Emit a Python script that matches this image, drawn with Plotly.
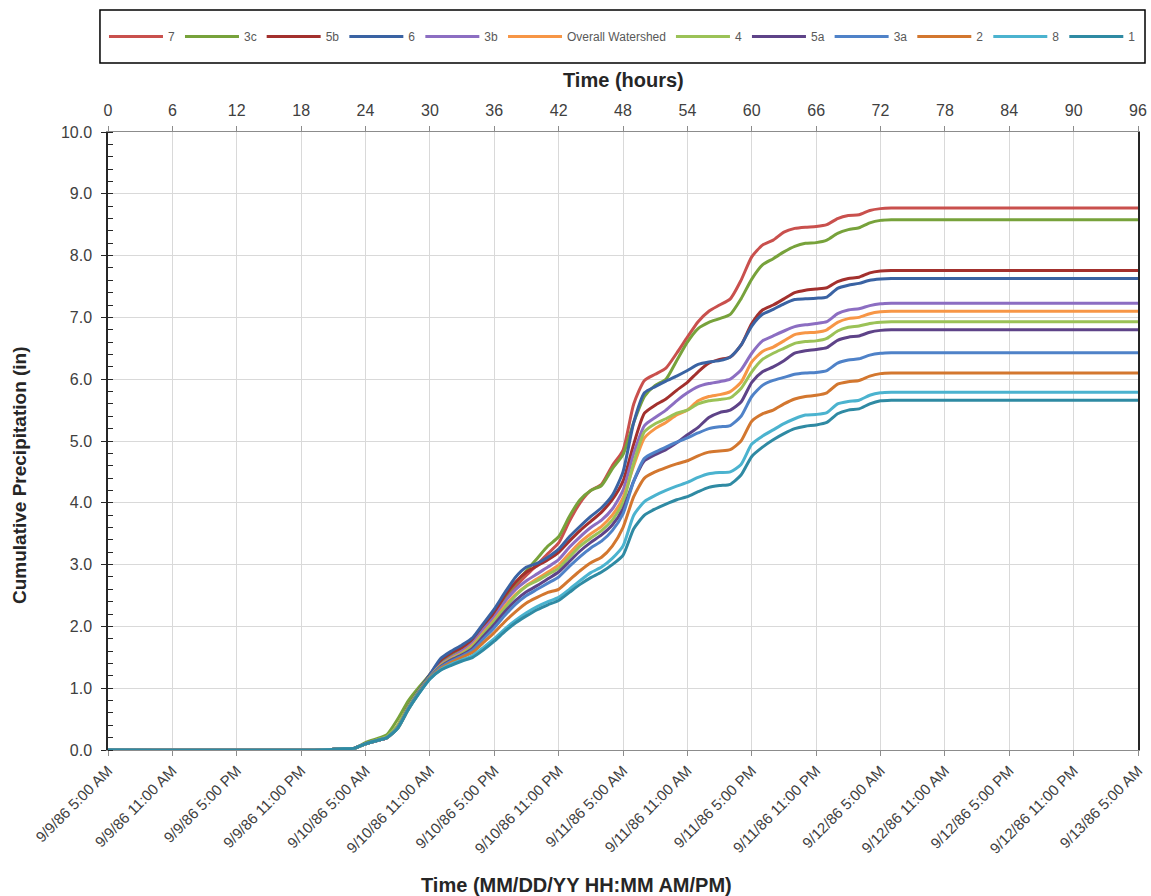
import plotly.graph_objects as go

# Time in hours since 9/9/86 5:00 AM
hours = [0, 20, 22, 23, 24, 25, 26, 27, 28, 29, 30, 31, 32, 33, 34, 35, 36, 37, 38, 39,
         40, 41, 42, 43, 44, 45, 46, 47, 48, 49, 50, 51, 52, 53, 54, 55, 56, 57, 58, 59,
         60, 61, 62, 63, 64, 65, 66, 67, 68, 69, 70, 71, 72, 73, 96]

s7 = [0, 0, 0.02, 0.03, 0.10, 0.15, 0.20, 0.40, 0.72, 0.98, 1.22, 1.42, 1.55, 1.64, 1.76, 1.98, 2.20, 2.45, 2.65, 2.83,
      3.00, 3.18, 3.35, 3.70, 4.00, 4.20, 4.30, 4.60, 4.85, 5.60, 5.98, 6.08, 6.18, 6.42, 6.68, 6.93, 7.10, 7.20, 7.30, 7.60,
      7.98, 8.17, 8.25, 8.38, 8.44, 8.46, 8.47, 8.50, 8.60, 8.65, 8.66, 8.73, 8.76, 8.77, 8.77]
s3c = [0, 0, 0.02, 0.03, 0.12, 0.18, 0.25, 0.50, 0.80, 1.02, 1.22, 1.42, 1.55, 1.65, 1.80, 2.02, 2.22, 2.48, 2.70, 2.90,
       3.10, 3.30, 3.45, 3.78, 4.05, 4.20, 4.28, 4.55, 4.78, 5.30, 5.72, 5.90, 6.00, 6.30, 6.60, 6.82, 6.92, 6.98, 7.05, 7.30,
       7.62, 7.85, 7.95, 8.06, 8.15, 8.20, 8.21, 8.25, 8.36, 8.42, 8.45, 8.53, 8.57, 8.58, 8.58]
s5b = [0, 0, 0.02, 0.03, 0.10, 0.15, 0.20, 0.38, 0.70, 0.97, 1.22, 1.45, 1.57, 1.66, 1.80, 2.02, 2.22, 2.50, 2.72, 2.88,
       2.98, 3.08, 3.20, 3.38, 3.55, 3.70, 3.85, 4.05, 4.35, 4.95, 5.45, 5.58, 5.68, 5.82, 5.95, 6.12, 6.26, 6.32, 6.36, 6.55,
       6.90, 7.12, 7.20, 7.30, 7.40, 7.44, 7.46, 7.48, 7.58, 7.63, 7.65, 7.72, 7.75, 7.76, 7.76]
s6 = [0, 0, 0.02, 0.03, 0.10, 0.15, 0.20, 0.38, 0.70, 0.97, 1.22, 1.48, 1.60, 1.70, 1.82, 2.05, 2.28, 2.55, 2.80, 2.96,
      3.02, 3.12, 3.25, 3.45, 3.62, 3.78, 3.92, 4.12, 4.50, 5.30, 5.78, 5.88, 5.97, 6.05, 6.14, 6.24, 6.28, 6.30, 6.36, 6.55,
      6.86, 7.05, 7.13, 7.22, 7.29, 7.30, 7.31, 7.33, 7.47, 7.52, 7.55, 7.60, 7.62, 7.63, 7.63]
s3b = [0, 0, 0.02, 0.03, 0.10, 0.15, 0.20, 0.36, 0.68, 0.95, 1.18, 1.38, 1.50, 1.60, 1.73, 1.95, 2.15, 2.40, 2.60, 2.74,
       2.85, 2.96, 3.08, 3.28, 3.45, 3.60, 3.72, 3.90, 4.20, 4.80, 5.25, 5.38, 5.50, 5.65, 5.78, 5.88, 5.93, 5.96, 6.00, 6.15,
       6.42, 6.62, 6.70, 6.78, 6.85, 6.88, 6.90, 6.93, 7.06, 7.12, 7.14, 7.19, 7.22, 7.23, 7.23]
s_overall = [0, 0, 0.02, 0.03, 0.10, 0.15, 0.20, 0.36, 0.68, 0.95, 1.18, 1.37, 1.48, 1.57, 1.70, 1.90, 2.10, 2.33, 2.52, 2.66,
             2.77, 2.88, 2.99, 3.18, 3.36, 3.50, 3.62, 3.80, 4.08, 4.60, 5.05, 5.20, 5.30, 5.42, 5.50, 5.65, 5.72, 5.75, 5.80, 5.95,
             6.28, 6.45, 6.52, 6.62, 6.72, 6.75, 6.76, 6.80, 6.92, 6.98, 7.00, 7.06, 7.09, 7.10, 7.10]
s4 = [0, 0, 0.02, 0.03, 0.10, 0.16, 0.22, 0.40, 0.70, 0.96, 1.18, 1.36, 1.47, 1.56, 1.68, 1.88, 2.08, 2.30, 2.50, 2.65,
      2.74, 2.84, 2.94, 3.12, 3.30, 3.43, 3.55, 3.72, 4.00, 4.65, 5.15, 5.28, 5.36, 5.45, 5.50, 5.60, 5.65, 5.67, 5.70, 5.85,
      6.12, 6.32, 6.42, 6.50, 6.58, 6.61, 6.62, 6.66, 6.78, 6.84, 6.86, 6.90, 6.92, 6.93, 6.93]
s5a = [0, 0, 0.02, 0.03, 0.10, 0.15, 0.20, 0.36, 0.67, 0.94, 1.17, 1.35, 1.46, 1.54, 1.65, 1.84, 2.03, 2.24, 2.42, 2.56,
       2.66, 2.77, 2.88, 3.05, 3.22, 3.36, 3.48, 3.64, 3.90, 4.35, 4.68, 4.78, 4.86, 4.97, 5.10, 5.22, 5.38, 5.46, 5.50, 5.63,
       5.95, 6.12, 6.20, 6.30, 6.42, 6.46, 6.48, 6.51, 6.63, 6.68, 6.70, 6.76, 6.79, 6.80, 6.80]
s3a = [0, 0, 0.02, 0.03, 0.10, 0.15, 0.20, 0.36, 0.67, 0.94, 1.17, 1.34, 1.44, 1.52, 1.62, 1.80, 1.98, 2.18, 2.36, 2.50,
       2.60, 2.70, 2.80, 2.97, 3.13, 3.27, 3.38, 3.55, 3.82, 4.35, 4.72, 4.82, 4.90, 4.98, 5.05, 5.13, 5.20, 5.23, 5.25, 5.40,
       5.72, 5.90, 5.98, 6.03, 6.08, 6.10, 6.11, 6.14, 6.26, 6.31, 6.33, 6.39, 6.42, 6.43, 6.43]
s2 = [0, 0, 0.02, 0.03, 0.10, 0.15, 0.20, 0.35, 0.66, 0.93, 1.16, 1.32, 1.42, 1.50, 1.58, 1.74, 1.90, 2.08, 2.24, 2.38,
      2.47, 2.55, 2.60, 2.75, 2.90, 3.03, 3.12, 3.30, 3.60, 4.10, 4.40, 4.50, 4.57, 4.63, 4.68, 4.76, 4.82, 4.84, 4.86, 5.00,
      5.32, 5.44, 5.50, 5.60, 5.68, 5.72, 5.74, 5.78, 5.92, 5.96, 5.98, 6.05, 6.09, 6.10, 6.10]
s8 = [0, 0, 0.02, 0.03, 0.10, 0.15, 0.20, 0.35, 0.66, 0.92, 1.15, 1.30, 1.39, 1.46, 1.53, 1.66, 1.80, 1.96, 2.10, 2.22,
      2.32, 2.40, 2.47, 2.60, 2.74, 2.87, 2.96, 3.10, 3.30, 3.80, 4.02, 4.12, 4.20, 4.27, 4.33, 4.41, 4.47, 4.49, 4.50, 4.62,
      4.95, 5.08, 5.18, 5.28, 5.36, 5.42, 5.43, 5.46, 5.60, 5.64, 5.66, 5.74, 5.78, 5.79, 5.79]
s1 = [0, 0, 0.02, 0.03, 0.10, 0.15, 0.20, 0.35, 0.66, 0.92, 1.15, 1.29, 1.37, 1.44, 1.50, 1.62, 1.76, 1.92, 2.06, 2.17,
      2.27, 2.35, 2.42, 2.55, 2.68, 2.79, 2.88, 3.00, 3.15, 3.58, 3.80, 3.90, 3.98, 4.05, 4.10, 4.18, 4.25, 4.28, 4.30, 4.45,
      4.75, 4.90, 5.02, 5.12, 5.20, 5.24, 5.26, 5.30, 5.44, 5.50, 5.52, 5.60, 5.65, 5.66, 5.66]

series_names = ["7", "3c", "5b", "6", "3b", "Overall Watershed", "4", "5a", "3a", "2", "8", "1"]
series_values = [s7, s3c, s5b, s6, s3b, s_overall, s4, s5a, s3a, s2, s8, s1]
series_colors = ["#C9504D", "#77A23B", "#A3302D", "#3A63A3", "#8C6EC2", "#F79646",
                 "#9BC257", "#5E4388", "#4F82C8", "#D3772F", "#4BB3CF", "#2F8AA3"]

hour_ticks = list(range(0, 97, 6))
date_labels = ["9/9/86 5:00 AM", "9/9/86 11:00 AM", "9/9/86 5:00 PM", "9/9/86 11:00 PM",
               "9/10/86 5:00 AM", "9/10/86 11:00 AM", "9/10/86 5:00 PM", "9/10/86 11:00 PM",
               "9/11/86 5:00 AM", "9/11/86 11:00 AM", "9/11/86 5:00 PM", "9/11/86 11:00 PM",
               "9/12/86 5:00 AM", "9/12/86 11:00 AM", "9/12/86 5:00 PM", "9/12/86 11:00 PM",
               "9/13/86 5:00 AM"]
y_ticks = [float(v) for v in range(0, 11)]

fig = go.Figure()
for name, vals, col in zip(series_names, series_values, series_colors):
    fig.add_trace(go.Scatter(x=hours, y=vals, name=name, mode="lines",
                             line=dict(color=col, width=3, shape="spline", smoothing=0.6),
                             xaxis="x", yaxis="y"))

# invisible trace to carry the top axis
fig.add_trace(go.Scatter(x=[0, 96], y=[0, 0], mode="lines", line=dict(width=0),
                         showlegend=False, hoverinfo="skip", xaxis="x2", yaxis="y",
                         opacity=0))

font_main = "Liberation Sans, Arial, sans-serif"

fig.update_layout(
    width=1151, height=896,
    margin=dict(l=108, r=13, t=132, b=146, autoexpand=False),
    paper_bgcolor="white", plot_bgcolor="white",
    font=dict(family=font_main, color="#404040", size=13),
    showlegend=True,
    legend=dict(orientation="h", x=-0.0039, xanchor="left", y=1.1545, yanchor="middle",
                borderwidth=0, bgcolor="rgba(0,0,0,0)",
                font=dict(family=font_main, size=12, color="#595959"),
                itemwidth=54, tracegroupgap=0, traceorder="normal"),
    shapes=[dict(type="rect", xref="paper", yref="paper",
                 x0=-0.0078, x1=1.0068, y0=1.1117, y1=1.1974,
                 line=dict(color="black", width=1.5), fillcolor="rgba(0,0,0,0)", layer="below")],
    xaxis=dict(range=[0, 96], tickmode="array", tickvals=hour_ticks, ticktext=date_labels,
               tickangle=-45, tickfont=dict(size=15, color="#404040"),
               showgrid=True, gridcolor="#D9D9D9", gridwidth=1,
               showline=True, linecolor="#8C8C8C", linewidth=1.2,
               ticks="outside", ticklen=5, tickcolor="#8C8C8C",
               zeroline=False, fixedrange=True),
    xaxis2=dict(range=[0, 96], overlaying="x", side="top", anchor="y",
                tickmode="array", tickvals=hour_ticks,
                tickfont=dict(size=16, color="#404040"),
                showgrid=False, showline=True, linecolor="#8C8C8C", linewidth=1.2,
                ticks="outside", ticklen=5, tickcolor="#8C8C8C", ticklabelstandoff=4,
                zeroline=False, fixedrange=True),
    yaxis=dict(range=[0, 10], tickmode="array", tickvals=y_ticks, tickformat=".1f",
               tickfont=dict(size=16, color="#404040"),
               showgrid=True, gridcolor="#D9D9D9", gridwidth=1,
               showline=True, linecolor="#262626", linewidth=1.5, mirror=True,
               ticks="outside", ticklen=5, tickcolor="#262626", ticklabelstandoff=6,
               minor=dict(dtick=0.2, ticks="inside", ticklen=5, tickcolor="#262626", showgrid=False),
               zeroline=False, fixedrange=True),
    annotations=[
        dict(text="<b>Time (hours)</b>", xref="paper", yref="paper",
             x=0.5, y=1.084, xanchor="center", yanchor="middle", showarrow=False,
             font=dict(size=20, color="#262626")),
        dict(text="<b>Cumulative Precipitation (in)</b>", xref="paper", yref="paper",
             x=-0.0854, y=0.445, xanchor="center", yanchor="middle", textangle=-90, showarrow=False,
             font=dict(size=19, color="#262626")),
        dict(text="<b>Time (MM/DD/YY HH:MM AM/PM)</b>", xref="paper", yref="paper",
             x=0.455, y=-0.218, xanchor="center", yanchor="middle", showarrow=False,
             font=dict(size=20, color="#262626")),
    ],
)

# remove the default page margin so the figure fills the 1151x896 window exactly
fig.write_html("out.html", config={"displayModeBar": False},
               post_script="document.body.style.margin='0';document.body.style.overflow='hidden';")
